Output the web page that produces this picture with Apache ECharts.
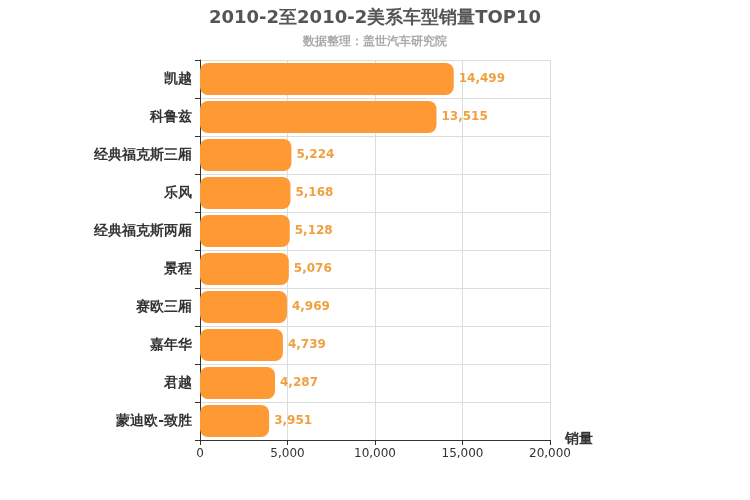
<!DOCTYPE html>
<html><head><meta charset="utf-8">
<script src="https://cdn.jsdelivr.net/npm/echarts@6/dist/echarts.min.js"></script>
<style>html,body{margin:0;padding:0}#c{width:750px;height:500px}</style>
</head><body><div id="c"></div>
<script>
const categories = ['凯越','科鲁兹','经典福克斯三厢','乐风','经典福克斯两厢','景程','赛欧三厢','嘉年华','君越','蒙迪欧-致胜'];
const sales = [14499,13515,5224,5168,5128,5076,4969,4739,4287,3951];
const chart = echarts.init(document.getElementById('c'));
chart.setOption({
  animation:false,
  textStyle:{fontFamily:'DejaVu Sans'},
  title:{text:'2010-2至2010-2美系车型销量TOP10',subtext:'数据整理：盖世汽车研究院',left:'center',top:4,
    textStyle:{fontSize:18,fontWeight:'bold',color:'#555',fontFamily:'DejaVu Sans'},
    subtextStyle:{fontSize:12,color:'#aaa',fontWeight:'bold',fontFamily:'DejaVu Sans'},itemGap:9},
  grid:{left:200,right:200,top:60,bottom:60,containLabel:false},
  xAxis:{type:'value',min:0,max:20000,interval:5000,name:'销量',nameLocation:'end',nameGap:15,
    nameTextStyle:{fontSize:14,fontWeight:'bold',color:'#333',verticalAlign:'top',padding:[-8,0,0,0]},
    axisLine:{show:true,lineStyle:{color:'#333'}},axisTick:{show:true},
    axisLabel:{color:'#333',fontSize:12,formatter:v=>v.toLocaleString('en-US')},
    splitLine:{lineStyle:{color:'#ddd'}}},
  yAxis:{type:'category',data:categories,inverse:true,
    axisLine:{lineStyle:{color:'#333'}},axisTick:{show:true},
    axisLabel:{color:'#333',fontSize:14,fontWeight:'bold',padding:[3,0,0,0]},
    splitLine:{show:true,lineStyle:{color:'#ddd'}}},
  series:[{type:'bar',data:sales,barWidth:32,
    itemStyle:{color:'#ff9933',borderRadius:8},
    label:{show:true,position:'right',color:'#f0a040',fontWeight:'bold',fontSize:12,padding:[3,0,0,0],
      formatter:p=>p.value.toLocaleString('en-US')}}]
});
</script></body></html>
